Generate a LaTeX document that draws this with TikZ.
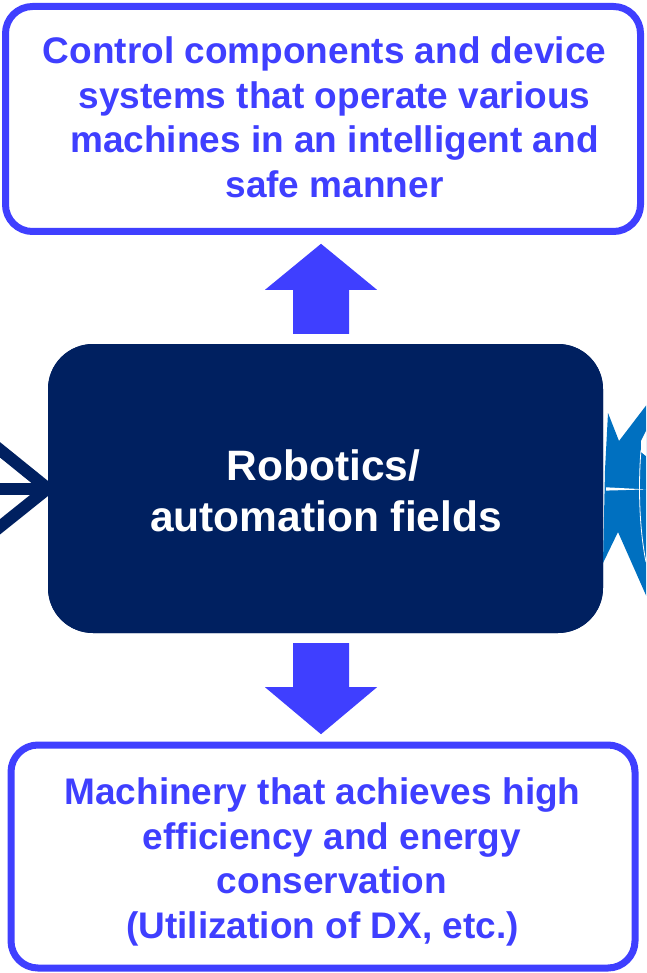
\documentclass[tikz,border=0pt]{standalone}
\usepackage{fontspec}
\setmainfont{Liberation Sans}
\usetikzlibrary{calc}
\definecolor{vivid}{HTML}{3F3FFF}
\definecolor{navy}{HTML}{002060}
\definecolor{burst}{HTML}{0070C0}

\begin{document}
\begin{tikzpicture}[x=1pt,y=-1pt,
  panel/.style={draw=vivid, line width=7pt, rounded corners=27pt, fill=white,
                inner sep=0pt},
  core/.style={fill=navy, rounded corners=45pt, inner sep=0pt,
               minimum width=555pt, minimum height=289pt},
  paneltext/.style={text=vivid, align=center, inner sep=0pt,
                    font=\fontsize{37}{44.5}\selectfont\bfseries},
  coretext/.style={text=white, align=center, inner sep=0pt,
                   font=\fontsize{42.5}{51}\selectfont\bfseries},
  blockarrow/.style={fill=vivid},
  navyline/.style={draw=navy, line width=12pt, line join=miter}]

\useasboundingbox (0,0) rectangle (646,973);

\begin{scope}
  \clip (0,0) rectangle (646,973);

  % central field box (drawn first as a named anchor for the connectors)
  \node[core] (core) at (325.5,488.5) {};

  % open arrow feeding into the central box from the left
  \coordinate (inlet) at (core.west);
  \coordinate (feedA) at (-14,438.5);
  \coordinate (feedB) at (-14,538);
  \coordinate (feedC) at (-14,488.5);
  \draw[navyline] (feedA) -- (inlet) -- (feedB);
  \draw[navyline] (feedC) -- (inlet);

  % burst shape on the right
  \fill[burst] (608,413) -- (619,441) -- (664,382) -- (664,636)
               -- (618,532) -- (603,563) -- (605,470) -- cycle;
  \fill[white] (606,487.3) -- (646,489.4) -- (606,490.6) -- cycle;
  \fill[white] (646,431) -- (641,441) -- (641,452) -- (646,456) -- cycle;
  \draw[white, line width=0.8pt] (641,450) .. controls (638.5,480) and (638.5,525) .. (646,562);

  % redraw the central box over the incoming strokes
  \node[core] (corefill) at (core) {};
  \node[coretext] (coretxt) at (326,491)
    {Robotics/\kern5pt\\automation fields};

  % upper panel
  \node[panel, minimum width=635pt, minimum height=225pt] (top) at (323,119) {};
  \node[paneltext] (toptxt) at (324.5,117.3)
    {Control components and device\\
     \kern20pt systems that operate various\\
     \kern20pt machines in an intelligent and\\
     \kern20pt safe manner};

  % lower panel
  \node[panel, minimum width=624pt, minimum height=223pt] (bottom) at (323,856.5) {};
  \node[paneltext] (bottomtxt) at (322.5,862)
    {Machinery that achieves high\\
     \kern19pt efficiency and energy\\
     \kern19pt conservation\\
     (Utilization of DX, etc.)};

  % block arrow from the central box up to the upper panel
  \coordinate (upfoot) at ($(core.north)+(-4.5,-10)$);
  \fill[blockarrow] (upfoot) ++(-28,0) -- ++(0,-44) -- ++(-28,0) -- ++(56,-46)
    -- ++(56,46) -- ++(-28,0) -- ++(0,44) -- cycle;

  % block arrow from the central box down to the lower panel
  \coordinate (downtop) at ($(core.south)+(-4.5,10)$);
  \fill[blockarrow] (downtop) ++(-28,0) -- ++(0,44) -- ++(-28,0) -- ++(56,47)
    -- ++(56,-47) -- ++(-28,0) -- ++(0,-44) -- cycle;
\end{scope}
\end{tikzpicture}
\end{document}
